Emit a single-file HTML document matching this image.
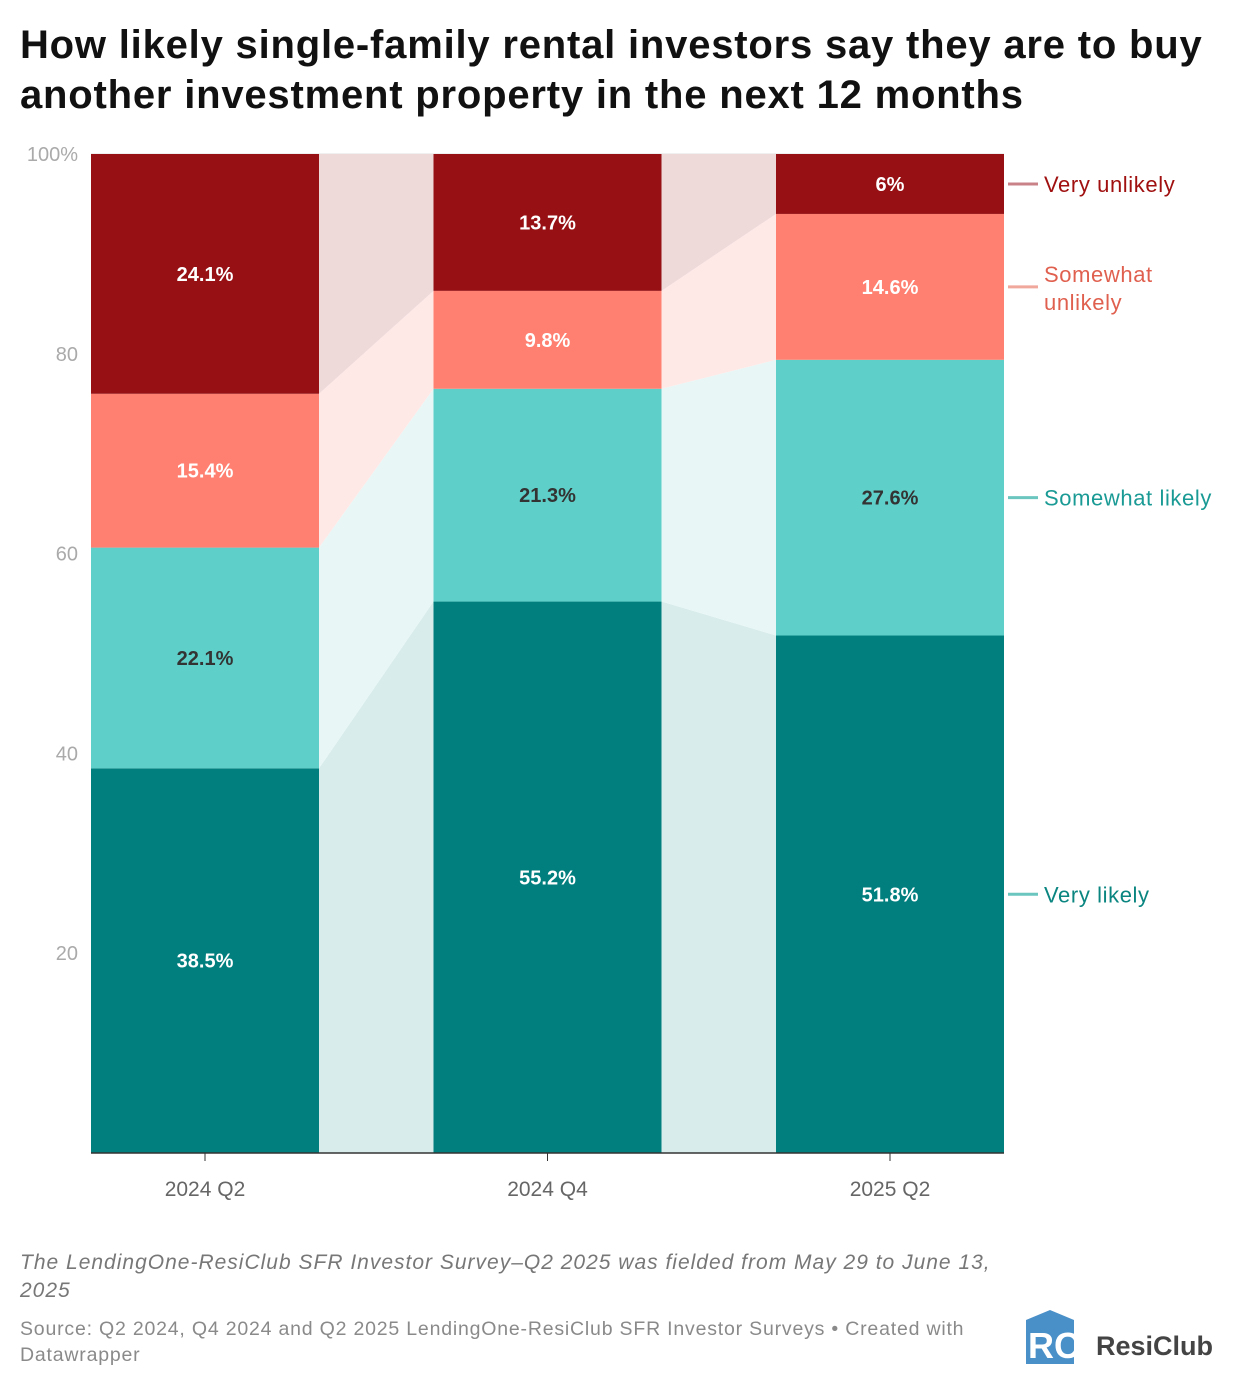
<!DOCTYPE html>
<html><head><meta charset="utf-8">
<style>
body{margin:0;background:#fff;font-family:"Liberation Sans",Arial,sans-serif;}
#wrap{position:relative;width:1240px;height:1388px;overflow:hidden;}
h1{position:absolute;left:20px;top:20px;margin:0;font-size:40px;line-height:50px;font-weight:bold;color:#111;width:1220px;letter-spacing:0.8px;white-space:nowrap}
.note{position:absolute;left:20px;top:1249px;font-size:21px;font-style:italic;color:#777;line-height:28px;width:1100px;letter-spacing:1px;white-space:nowrap}
.src{position:absolute;left:20px;top:1316px;font-size:19.5px;color:#8a8a8a;line-height:26px;width:1100px;letter-spacing:0.8px;white-space:nowrap}
</style></head><body>
<div id="wrap">
<h1>How likely single-family rental investors say they are to buy<br>another investment property in the next 12 months</h1>
<svg id="chart" width="1240" height="1388" style="position:absolute;left:0;top:0"></svg>
<div class="note">The LendingOne-ResiClub SFR Investor Survey–Q2 2025 was fielded from May 29 to June 13,<br>2025</div>
<div class="src">Source: Q2 2024, Q4 2024 and Q2 2025 LendingOne-ResiClub SFR Investor Surveys • Created with<br>Datawrapper</div>
<svg style="position:absolute;left:1024px;top:1308px" width="200" height="60">
<polygon points="2,12 26,2 50,12 50,56 2,56" fill="#4a90c8"/>
<text x="4" y="50" font-size="36" font-weight="bold" fill="#fff" font-family="Liberation Sans">RC</text>
<text x="72" y="47" font-size="27" font-weight="bold" fill="#444" font-family="Liberation Sans">ResiClub</text>
</svg>
</div>
<script>
const categories=["2024 Q2","2024 Q4","2025 Q2"];
const seriesNames=["Very likely","Somewhat likely","Somewhat unlikely","Very unlikely"];
const veryLikely=[38.5,55.2,51.8];
const somewhatLikely=[22.1,21.3,27.6];
const somewhatUnlikely=[15.4,9.8,14.6];
const veryUnlikely=[24.1,13.7,6];
const yTicks=[20,40,60,80,100];
const yTickLabels=["20","40","60","80","100%"];
const series=[veryLikely,somewhatLikely,somewhatUnlikely,veryUnlikely];
const colors=["#007f7e","#5ecfc9","#ff8070","#961014"];
const fadeColors=["#d9ecec","#e8f7f6","#ffe9e7","#efdada"];
const labelColors=["#0a8580","#1a9a94","#e0604f","#a01010"];
const legendLine=["#6cc6c0","#6cc6c0","#f0a79c","#c98388"];
const textColors=["#fff","#333","#fff","#fff"];
const svg=document.getElementById('chart');const NS="http://www.w3.org/2000/svg";
const L=91,R=1004,T=154,B=1153,bw=228;
const y=v=>B-(B-T)*v/100;
const step=(R-L-bw)/(categories.length-1);
const x=i=>L+i*step;
function mk(tag,attrs,parent){const e=document.createElementNS(NS,tag);for(const k in attrs)e.setAttribute(k,attrs[k]);(parent||svg).appendChild(e);return e;}
yTicks.forEach((t,i)=>{
 const g=mk('line',{x1:L,x2:R,y1:y(t),y2:y(t),stroke:'#e2e2e2','stroke-width':1});
 
 
 const tx=mk('text',{x:78,y:y(t)+7,'text-anchor':'end','font-size':20,fill:'#aaa'});
 tx.textContent=yTickLabels[i];
 
 
});
const cum=categories.map((c,i)=>{let s=0;return series.map(sr=>{const a=s;s+=sr[i];return [a,Math.min(s,100)];});});
for(let i=0;i<categories.length-1;i++){
 series.forEach((sr,k)=>{
  const a=cum[i][k],b=cum[i+1][k];
  const x1=x(i)+bw,x2=x(i+1);
  const p=mk('polygon',{points:`${x1},${y(a[0])} ${x1},${y(a[1])} ${x2},${y(b[1])} ${x2},${y(b[0])}`,fill:fadeColors[k]});
  
  
 });
}
categories.forEach((c,i)=>{
 series.forEach((sr,k)=>{
  const [a,b]=cum[i][k];
  const r=mk('rect',{x:x(i),y:y(b),width:bw,height:y(a)-y(b),fill:colors[k]});
  
  
  const t=mk('text',{x:x(i)+bw/2,y:y((a+b)/2)+7,'text-anchor':'middle','font-size':20,'font-weight':'bold',fill:textColors[k]});
  t.textContent=sr[i]+'%';
  
  
 });
 const tk=mk('line',{x1:x(i)+bw/2,x2:x(i)+bw/2,y1:B,y2:B+8,stroke:'#333'});
 
 
 const tl=mk('text',{x:x(i)+bw/2,y:B+43,'text-anchor':'middle','font-size':21,fill:'#666'});
 tl.textContent=c;
 
 
});
const ax=mk('line',{x1:L,x2:R,y1:B,y2:B,stroke:'#333','stroke-width':1.5});


const last=categories.length-1;
series.forEach((sr,k)=>{
 const [a,b]=cum[last][k];const ym=y((a+b)/2);
 const ln=mk('line',{x1:1008,x2:1038,y1:ym,y2:ym,stroke:legendLine[k],'stroke-width':3});
 
 
 const t=mk('text',{x:1044,y:ym+8,'font-size':22,fill:labelColors[k],'letter-spacing':'0.6'});
 
 
 if(seriesNames[k]==="Somewhat unlikely"){
  t.setAttribute('y',ym-5);
  const s1=mk('tspan',{x:1044},t);s1.textContent="Somewhat";
  const s2=mk('tspan',{x:1044,dy:28},t);s2.textContent="unlikely";
 } else t.textContent=seriesNames[k];
});
</script>
</body></html>
